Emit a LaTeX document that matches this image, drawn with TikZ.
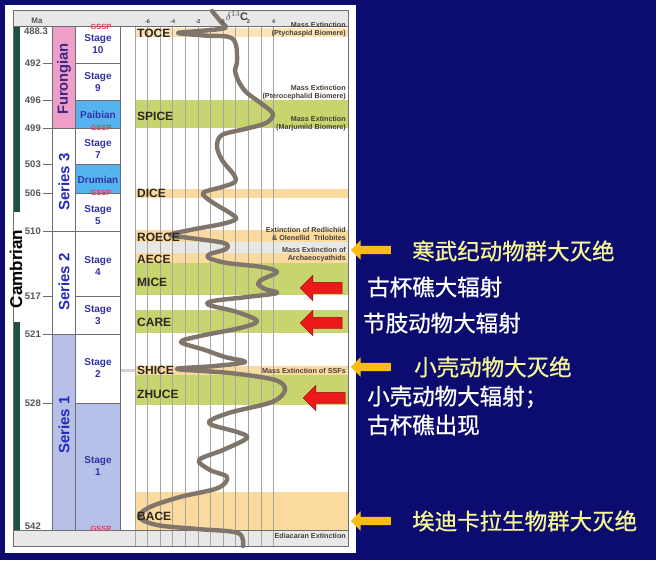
\documentclass[tikz,border=0pt]{standalone}
\usepackage{fontspec}
\setmainfont{Liberation Sans}
\newfontfamily\cjk[FakeBold=0.8]{Noto Sans CJK SC}
\usepackage{tikz}
\usetikzlibrary{shapes.arrows}
\definecolor{navy}{RGB}{12,12,112}
\definecolor{stripgray}{RGB}{232,232,232}
\definecolor{framegray}{RGB}{110,110,110}
\definecolor{gridgray}{RGB}{165,165,165}
\definecolor{bandorange}{RGB}{251,218,160}
\definecolor{bandgreen}{RGB}{200,212,110}
\definecolor{furpink}{RGB}{238,158,200}
\definecolor{stageblue}{RGB}{85,180,240}
\definecolor{lavender}{RGB}{182,192,232}
\definecolor{systemgreen}{RGB}{30,80,62}
\definecolor{curvegray}{RGB}{128,117,106}
\definecolor{evtext}{RGB}{45,38,28}
\definecolor{notetext}{RGB}{70,62,52}
\definecolor{agetext}{RGB}{85,85,85}
\definecolor{stagetext}{RGB}{50,50,165}
\definecolor{seriestext}{RGB}{40,40,190}
\definecolor{furtext}{RGB}{60,40,130}
\definecolor{gsspred}{RGB}{232,60,85}
\definecolor{arrowyellow}{RGB}{250,188,20}
\definecolor{arrowred}{RGB}{235,25,25}
\definecolor{textyellow}{RGB}{245,245,150}

\begin{document}
\begin{tikzpicture}[x=1pt, y=-1pt,
	event/.style={anchor=west, inner sep=0pt, text=evtext, font=\bfseries\fontsize{12}{12}\selectfont},
	note/.style={anchor=east, align=right, inner sep=0pt, text=notetext, font=\bfseries\fontsize{7.2}{8}\selectfont},
	age/.style={anchor=east, inner sep=0pt, text=agetext, font=\bfseries\fontsize{9.5}{10}\selectfont},
	stagebox/.style={align=center, inner sep=0pt, text=stagetext, font=\bfseries\fontsize{10}{12.5}\selectfont},
	series/.style={rotate=90, inner sep=0pt, text=seriestext, font=\bfseries\fontsize{15}{15}\selectfont},
	gssp/.style={inner sep=0pt, text=gsspred, font=\bfseries\fontsize{7.5}{8}\selectfont},
	tick/.style={inner sep=0pt, text=notetext, font=\bfseries\fontsize{5.5}{6}\selectfont},
	yarrow/.style={single arrow, shape border rotate=180, fill=arrowyellow, minimum height=40pt,
		inner xsep=0pt, inner ysep=4pt, single arrow head extend=5.5pt},
	rarrow/.style={single arrow, shape border rotate=180, fill=arrowred, draw=arrowred!60!black, minimum height=42pt,
		inner xsep=0pt, inner ysep=5.5pt, single arrow head extend=7pt},
	cn/.style={anchor=west, inner sep=0pt, font=\cjk\fontsize{22.5}{22.5}\selectfont},
	curve/.style={draw=curvegray, line width=4.4pt, line cap=round, line join=round}]

	% background and panel
	\fill[navy] (0,0) rectangle (656,560);
	\useasboundingbox (0,0) rectangle (656,560);
	\fill[white] (5,5) rectangle (356,553);
	\fill[stripgray] (13,10) rectangle (348,26);
	\fill[stripgray] (13,530) rectangle (348,546);

	% column fills
	\fill[furpink] (52,26) rectangle (75,128);
	\fill[lavender] (52,334) rectangle (75,530);
	\fill[stageblue] (75,100) rectangle (120,128);
	\fill[stageblue] (75,164) rectangle (120,193);
	\fill[lavender] (75,403) rectangle (120,530);

	% event bands
	\foreach \ya/\yb/\c in {28/37/bandorange!75, 100/128/bandgreen, 189/198/bandorange, 230/242/bandorange,
		242/253/stripgray, 253/263/bandorange, 263/295/bandgreen, 310/333/bandgreen,
		366/375/bandorange, 375/405/bandgreen, 492/530/bandorange}
		\fill[\c] (135,\ya) rectangle (348,\yb);
	\fill[stripgray!80!gray] (120,368.5) rectangle (135,372);

	% system bars
	\fill[systemgreen] (13,26) rectangle (20,212);
	\fill[systemgreen] (13,322) rectangle (20,530);

	% grid
	\foreach \k in {0,...,11}
		\draw[gridgray, line width=0.7pt] (135+12.6*\k,26) -- (135+12.6*\k,546);

	% columns and boundaries
	\begin{scope}[framegray, line width=0.9pt]
		\draw (52,26) -- (52,530) (75,26) -- (75,530) (120,26) -- (120,530);
		\draw (13,26) -- (348,26) (13,530) -- (348,530);
		\foreach \y in {63,100,164,193,296,403}
			\draw (43,\y) -- (52,\y) (75,\y) -- (120,\y);
		\foreach \y in {128,231,334}
			\draw (43,\y) -- (120,\y);
		\draw (13,10) rectangle (348,546);
	\end{scope}

	% carbon isotope curve
	\draw[curve] plot[smooth, tension=0.55] coordinates {
		(212,11) (221,22) (225,28) (200,31) (178,33) (204,35.5) (229,37) (236,45) (237,62) (235,70)
		(238,80) (246,92) (262,104) (273,114) (266,123) (245,129) (222,135) (217,146) (222,160)
		(234,175) (235,182) (222,187) (203,193) (212,202) (230,213) (236,219) (222,224) (190,230)
		(170,235) (190,238) (224,243) (226,249) (210,254) (209,258) (227,263) (262,267) (277,272)
		(263,279) (258,284) (265,289) (277,293) (247,297) (213,301) (209,305) (237,312) (257,321)
		(240,328) (200,336) (181,342) (205,350) (225,357) (245,362) (215,366) (177,369) (230,373)
		(275,380) (285,390) (272,402) (232,412) (211,420) (212,425) (237,432) (247,438) (223,450)
		(199,460) (210,470) (227,477) (218,488) (180,497) (150,507) (139,517) (157,525) (197,529)
		(238,533) (243,546)};

	% headers
	\node[inner sep=0pt, text=agetext, font=\bfseries\fontsize{8}{8}\selectfont] (ma) at (37,21) {Ma};
	\node[inner sep=0pt, text=notetext, font=\fontsize{11}{11}\selectfont] (d13c) at (237,16)
		{$\delta^{13}$\textbf{C}};
	\foreach \v/\n in {-6/a,-4/b,-2/c,0/d,2/e,4/f}
		\node[tick] (tick\n) at (223.2+12.6*\v,22) {\v};

	% ages
	\node[age] (ma488) at (48,31) {488.3};
	\foreach \y/\a in {63/492,100/496,128/499,164/503,193/506,231/510,296/517,334/521,403/528}
		\node[age] (ma\a) at (41,\y) {\a};
	\node[age] (ma542) at (41,526) {542};

	% system, series, stages
	\node[rotate=90, inner sep=0pt, font=\bfseries\fontsize{17}{17}\selectfont] (cambrian) at (16,269) {Cambrian};
	\node[series, text=furtext, font=\bfseries\fontsize{14.7}{15}\selectfont] (furongian) at (64,79) {Furongian};
	\node[series] (ser3) at (64,182) {Series 3};
	\node[series] (ser2) at (64,282) {Series 2};
	\node[series] (ser1) at (64,425) {Series 1};
	\foreach \y/\st in {44/10,82/9,149/7,215/5,266/4,315/3,368/2,466/1}
		\node[stagebox] (stage\st) at (98,\y) {Stage\\\st};
	\node[stagebox] (paibian) at (98,115) {Paibian};
	\node[stagebox] (drumian) at (98,180) {Drumian};
	\foreach \y/\n in {27/a,128/b,193/c,529/d}
		\node[gssp] (gssp\n) at (101,\y) {GSSP};

	% events
	\node[event] (toce) at (137,33) {TOCE};
	\node[event] (spice) at (137,116) {SPICE};
	\node[event] (dice) at (137,193) {DICE};
	\node[event] (roece) at (137,237) {ROECE};
	\node[event] (aece) at (137,259) {AECE};
	\node[event] (mice) at (137,282) {MICE};
	\node[event] (care) at (137,322) {CARE};
	\node[event] (shice) at (137,370) {SHICE};
	\node[event] (zhuce) at (137,394) {ZHUCE};
	\node[event] (bace) at (137,516) {BACE};

	% extinction notes
	\node[note] (ptych) at (346,29.5) {Mass Extinction\\(Ptychaspid Biomere)};
	\node[note] (ptero) at (346,92.5) {Mass Extinction\\(Pterocephalid Biomere)};
	\node[note] (marju) at (346,123.5) {Mass Extinction\\(Marjumiid Biomere)};
	\node[note] (redli) at (346,234) {Extinction of Redlichiid\\\& Olenellid~~Trilobites};
	\node[note] (archa) at (346,254.5) {Mass Extinction of\\Archaeocyathids};
	\node[note] (ssfs) at (346,371) {Mass Extinction of SSFs};
	\node[note] (ediac) at (346,536) {Ediacaran Extinction};

	% arrows and remarks
	\node[yarrow] (ya1) at (373,250) {};
	\node[yarrow] (ya2) at (373,367) {};
	\node[yarrow] (ya3) at (373,521) {};
	\node[rarrow] (ra1) at (324,288) {};
	\node[rarrow] (ra2) at (324,323) {};
	\node[rarrow] (ra3) at (327,398) {};
	\node[cn, text=textyellow] (cambext) at (412,251) {寒武纪动物群大灭绝};
	\node[cn, text=white] (archrad) at (367,287) {古杯礁大辐射};
	\node[cn, text=white] (arthrad) at (363,323) {节肢动物大辐射};
	\node[cn, text=textyellow] (ssfext) at (414,367) {小壳动物大灭绝};
	\node[cn, text=white] (ssfrad) at (367,397) {小壳动物大辐射；};
	\node[cn, text=white] (archapp) at (367,425) {古杯礁出现};
	\node[cn, text=textyellow] (ediext) at (412,521) {埃迪卡拉生物群大灭绝};
\end{tikzpicture}
\end{document}
